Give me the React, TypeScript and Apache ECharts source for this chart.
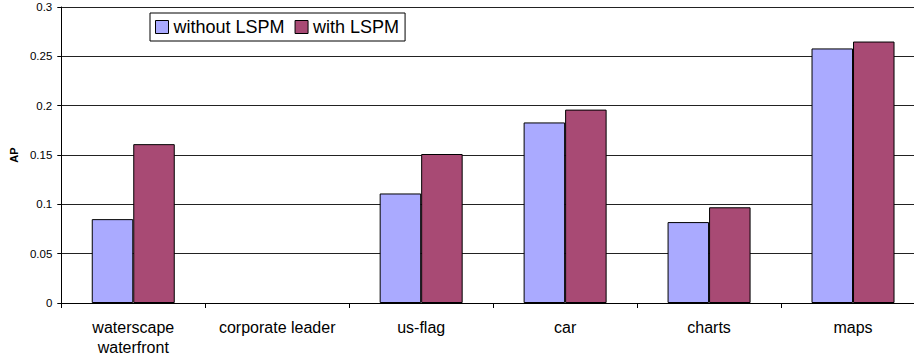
import React, { useEffect, useRef } from "react";
import * as echarts from "echarts";

const categories = ["waterscape\nwaterfront", "corporate leader", "us-flag", "car", "charts", "maps"];
const withoutLSPM = [0.085, 0, 0.111, 0.183, 0.082, 0.258];
const withLSPM = [0.161, 0, 0.151, 0.196, 0.097, 0.265];
const seriesNames = ["without LSPM", "with LSPM"];
const yTicks = { min: 0, max: 0.3, interval: 0.05 };

const FONT = "'Liberation Sans', Arial, sans-serif";

// Zero-height bars get no outline so they don't thicken the axis line.
const toBarData = (values: number[]) =>
  values.map((v) => (v === 0 ? { value: v, itemStyle: { borderWidth: 0 } } : v));

export default function App() {
  const ref = useRef<HTMLDivElement>(null);

  useEffect(() => {
    if (!ref.current) return;
    const chart = echarts.init(ref.current, undefined, { renderer: "svg" });
    chart.setOption({
      animation: false,
      backgroundColor: "#fff",
      textStyle: { fontFamily: FONT },
      grid: { left: 58, right: 0, top: 7, bottom: 55, containLabel: false },
      legend: {
        data: seriesNames,
        left: 150,
        top: 13,
        orient: "horizontal",
        padding: [5, 6, 5, 5],
        itemGap: 10,
        itemWidth: 13,
        itemHeight: 13,
        icon: "rect",
        borderColor: "#000",
        borderWidth: 1,
        backgroundColor: "#fff",
        textStyle: { fontFamily: FONT, fontSize: 18, color: "#000" },
        itemStyle: { borderColor: "#000", borderWidth: 1 },
      },
      xAxis: {
        type: "category",
        data: categories,
        boundaryGap: true,
        axisLine: { show: true, lineStyle: { color: "#000", width: 1 } },
        axisTick: { show: true, length: 5, lineStyle: { color: "#000" } },
        axisLabel: {
          fontFamily: FONT,
          fontSize: 16,
          lineHeight: 20,
          color: "#000",
          margin: 14,
          interval: 0,
        },
        splitLine: { show: false },
      },
      yAxis: {
        type: "value",
        min: yTicks.min,
        max: yTicks.max,
        interval: yTicks.interval,
        name: "AP",
        nameLocation: "middle",
        nameRotate: 90,
        nameGap: 30,
        nameTextStyle: { fontFamily: FONT, fontSize: 11, fontWeight: "bold", color: "#000" },
        axisLine: { show: true, lineStyle: { color: "#000", width: 1 } },
        axisTick: { show: true, length: 4, lineStyle: { color: "#000" } },
        axisLabel: { fontFamily: FONT, fontSize: 11.5, color: "#000", margin: 9 },
        splitLine: { show: true, lineStyle: { color: "#222", width: 1 } },
      },
      series: [
        {
          name: seriesNames[0],
          type: "bar",
          data: toBarData(withoutLSPM),
          barWidth: 41.5,
          barGap: "0%",
          itemStyle: { color: "#AAAAFF", borderColor: "#000", borderWidth: 1 },
        },
        {
          name: seriesNames[1],
          type: "bar",
          data: toBarData(withLSPM),
          barWidth: 41.5,
          barGap: "0%",
          itemStyle: { color: "#A84A74", borderColor: "#000", borderWidth: 1 },
        },
      ],
    });
    return () => chart.dispose();
  }, []);

  return (
    <div style={{ position: "fixed", left: 0, top: 0, width: 914, height: 358, overflow: "hidden", background: "#fff" }}>
      <div ref={ref} style={{ width: 925, height: 358 }} />
    </div>
  );
}
